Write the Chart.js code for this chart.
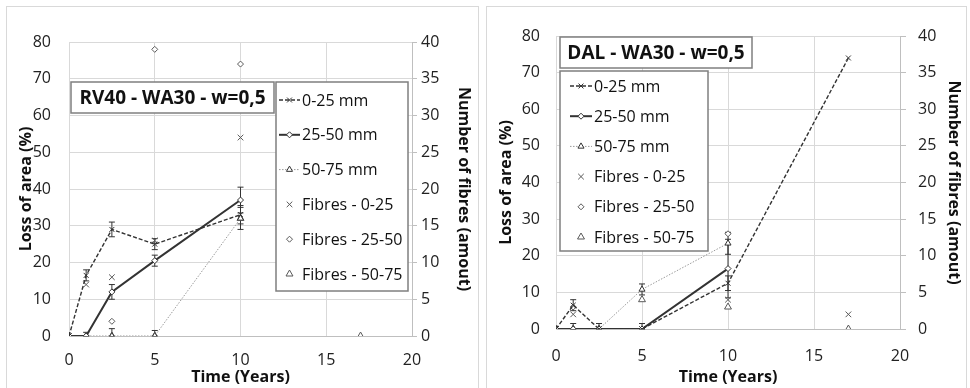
<!DOCTYPE html>
<html>
<head>
<meta charset="utf-8">
<script src="https://cdn.jsdelivr.net/npm/chart.js@4.4.1/dist/chart.umd.min.js"></script>
<style>
  body { margin: 0; background: #fff; width: 970px; height: 388px; overflow: hidden; position: relative; }
  .frame { position: absolute; border: 1px solid #d9d9d9; box-sizing: border-box; }
  canvas { position: absolute; display: block; }
</style>
</head>
<body>
<div class="frame" style="left:6px;top:6px;width:473px;height:384px"></div>
<div class="frame" style="left:486px;top:6px;width:481px;height:384px"></div>
<canvas id="rv40" width="471" height="380" style="left:7px;top:7px"></canvas>
<canvas id="dal" width="478" height="380" style="left:487px;top:7px"></canvas>
<script>
// RV40 - WA30 - w=0,5 (left panel)
const rv40Years = [0, 1, 2.5, 5, 10];
const rv40Loss025 = [0, 16.5, 29, 25, 33];
const rv40Loss2550 = [0, 0, 12, 20.5, 37];
const rv40Loss5075 = [0, 0, 0, 0, 32];
const rv40Err025 = [0, 1.5, 2, 1.5, 2.5];
const rv40Err2550 = [0, 1, 2, 1.5, 3.5];
const rv40Err5075 = [0, 0, 2, 1.5, 3];
const rv40FibYears = [0, 1, 2.5, 5, 10, 17];
const rv40Fib025 = [0, 7, 8, 13, 27, null];
const rv40Fib2550 = [0, 0, 2, 39, 37, null];
const rv40Fib5075 = [0, 0, 0, 0, 16, 0];

// DAL - WA30 - w=0,5 (right panel)
const dalYears025 = [0, 1, 2.5, 5, 10, 17];
const dalLoss025 = [0, 6.5, 0, 0, 12.5, 74];
const dalYears = [0, 1, 2.5, 5, 10];
const dalLoss2550 = [0, 0, 0, 0, 16.5];
const dalLoss5075 = [0, 0, 0, 10.8, 23.4];
const dalErr025 = [0, 1.5, 1.5, 1.5, 2, 0];
const dalErr2550 = [0, 1.5, 0, 0, 8];
const dalErr5075 = [0, 0, 0, 1.5, 3];
const dalFibYears = [0, 1, 2.5, 5, 10, 17];
const dalFib025 = [0, 2, 0, 0, 4, 2];
const dalFib2550 = [0, 3, 0, 0, 13, null];
const dalFib5075 = [0, 0, 0, 4, 3, 0];

const legendLabels = ['0-25 mm', '25-50 mm', '50-75 mm', 'Fibres - 0-25', 'Fibres - 25-50', 'Fibres - 50-75'];
const xTicks = [0, 5, 10, 15, 20];

const FONT = '"Open Sans", "DejaVu Sans", sans-serif';
const DARK = '#333333';
const LIGHT = '#9a9a9a';
const GRID = '#d9d9d9';

const pts = (xs, ys) => xs.map((x, i) => ({ x: x, y: ys[i] })).filter(p => p.y !== null);

function marker(ctx, style, x, y, r) {
  ctx.beginPath();
  if (style === 'crossRot') {
    ctx.moveTo(x - r * 0.7, y - r * 0.7); ctx.lineTo(x + r * 0.7, y + r * 0.7);
    ctx.moveTo(x + r * 0.7, y - r * 0.7); ctx.lineTo(x - r * 0.7, y + r * 0.7);
    ctx.stroke();
    return;
  }
  if (style === 'rectRot') {
    ctx.moveTo(x, y - r); ctx.lineTo(x + r, y); ctx.lineTo(x, y + r); ctx.lineTo(x - r, y);
  } else {
    ctx.moveTo(x, y - r); ctx.lineTo(x + r * 0.87, y + r * 0.5); ctx.lineTo(x - r * 0.87, y + r * 0.5);
  }
  ctx.closePath();
  ctx.fill();
  ctx.stroke();
}

const errorBars = {
  id: 'errorBars',
  beforeDatasetsDraw(chart) {
    const ctx = chart.ctx;
    ctx.save();
    ctx.strokeStyle = DARK;
    ctx.lineWidth = 1;
    chart.data.datasets.forEach(ds => {
      if (!ds.errors) return;
      const xs = chart.scales.x, ys = chart.scales[ds.yAxisID || 'y'];
      ds.data.forEach((p, j) => {
        const e = ds.errors[j];
        if (!e) return;
        const px = xs.getPixelForValue(p.x);
        const t = ys.getPixelForValue(p.y + e);
        const b = ys.getPixelForValue(Math.max(0, p.y - e));
        ctx.beginPath();
        ctx.moveTo(px, t); ctx.lineTo(px, b);
        ctx.moveTo(px - 3, t); ctx.lineTo(px + 3, t);
        ctx.moveTo(px - 3, b); ctx.lineTo(px + 3, b);
        ctx.stroke();
      });
    });
    ctx.restore();
  }
};

const boxLegend = {
  id: 'boxLegend',
  afterDraw(chart, args, o) {
    const ctx = chart.ctx;
    ctx.save();
    // title box
    ctx.fillStyle = '#fff';
    ctx.strokeStyle = '#7f7f7f';
    ctx.lineWidth = 1.5;
    ctx.fillRect(o.title[0], o.title[1], o.title[2], o.title[3]);
    ctx.strokeRect(o.title[0], o.title[1], o.title[2], o.title[3]);
    ctx.fillStyle = '#111';
    ctx.font = 'bold 19px ' + FONT;
    ctx.textBaseline = 'middle';
    ctx.textAlign = 'center';
    ctx.fillText(o.text, o.title[0] + o.title[2] / 2, o.title[1] + o.title[3] / 2 + 1);
    // legend box
    ctx.fillStyle = '#fff';
    ctx.fillRect(o.box[0], o.box[1], o.box[2], o.box[3]);
    ctx.strokeRect(o.box[0], o.box[1], o.box[2], o.box[3]);
    ctx.font = '16px ' + FONT;
    ctx.textAlign = 'left';
    chart.data.datasets.forEach((ds, i) => {
      const y = o.rowTop + i * o.rowH;
      const mid = (o.sampleX[0] + o.sampleX[1]) / 2;
      if (ds.showLine) {
        ctx.strokeStyle = ds.borderColor;
        ctx.lineWidth = ds.borderWidth;
        ctx.setLineDash(ds.borderDash || []);
        ctx.beginPath();
        ctx.moveTo(o.sampleX[0], y); ctx.lineTo(o.sampleX[1], y);
        ctx.stroke();
        ctx.setLineDash([]);
      }
      ctx.strokeStyle = ds.pointBorderColor;
      ctx.fillStyle = ds.pointBackgroundColor;
      ctx.lineWidth = 1;
      marker(ctx, ds.pointStyle, mid, y, ds.pointRadius);
      ctx.fillStyle = '#111';
      ctx.fillText(legendLabels[i], o.textX, y + 1);
    });
    ctx.restore();
  }
};

function lineSet(xs, ys, errs, kind) {
  const styles = {
    a: { color: DARK, width: 1.4, dash: [4, 2], point: 'crossRot', r: 3.5 },
    b: { color: DARK, width: 2, dash: [], point: 'rectRot', r: 3 },
    c: { color: LIGHT, width: 1, dash: [1.5, 1.5], point: 'triangle', r: 3.5 }
  }[kind];
  return {
    data: pts(xs, ys),
    errors: errs,
    showLine: true,
    yAxisID: 'y',
    borderColor: styles.color,
    borderWidth: styles.width,
    borderDash: styles.dash,
    pointStyle: styles.point,
    pointRadius: styles.r,
    pointBorderColor: DARK,
    pointBackgroundColor: '#fff',
    pointBorderWidth: 1
  };
}

function fibreSet(xs, ys, style, r) {
  return {
    data: pts(xs, ys),
    showLine: false,
    yAxisID: 'y2',
    pointStyle: style,
    pointRadius: r,
    pointBorderColor: '#595959',
    pointBackgroundColor: '#fff',
    pointBorderWidth: 1
  };
}

function makeChart(id, datasets, g) {
  const tickFont = { family: FONT, size: 16 };
  const titleFont = { family: FONT, size: 16, weight: 'bold' };
  return new Chart(document.getElementById(id), {
    type: 'scatter',
    data: { datasets: datasets },
    options: {
      responsive: false,
      animation: false,
      layout: { padding: { top: g.top, left: 0, right: 0, bottom: 0 } },
      plugins: { legend: { display: false }, tooltip: { enabled: false }, boxLegend: g.legend },
      scales: {
        x: {
          type: 'linear', min: 0, max: 20,
          afterBuildTicks: s => { s.ticks = xTicks.map(v => ({ value: v })); },
          afterFit: s => { s.height = g.xh; },
          grid: { color: GRID, drawTicks: false },
          border: { color: '#bfbfbf' },
          ticks: { font: tickFont, color: '#222', padding: g.xpad },
          title: { display: true, text: 'Time (Years)', font: titleFont, color: '#111', padding: { top: 0, bottom: 0 } }
        },
        y: {
          position: 'left', min: 0, max: 80,
          afterFit: s => { s.width = g.yw; },
          grid: { color: GRID, drawTicks: false },
          border: { color: GRID },
          ticks: { stepSize: 10, font: tickFont, color: '#222', padding: g.ypad },
          title: { display: true, text: 'Loss of area (%)', font: titleFont, color: '#111', padding: { top: g.ytp, bottom: 0 } }
        },
        y2: {
          position: 'right', min: 0, max: 40,
          afterFit: s => { s.width = g.y2w; },
          grid: { drawOnChartArea: false, color: '#bfbfbf', tickLength: g.tl },
          border: { color: '#bfbfbf' },
          ticks: { stepSize: 5, font: tickFont, color: '#222', padding: g.y2pad },
          title: { display: true, text: 'Number of fibres (amout)', font: titleFont, color: '#111', padding: { top: g.y2tp, bottom: 0 } }
        }
      }
    },
    plugins: [errorBars, boxLegend]
  });
}

makeChart('rv40', [
  lineSet(rv40Years, rv40Loss025, rv40Err025, 'a'),
  lineSet(rv40Years, rv40Loss2550, rv40Err2550, 'b'),
  lineSet(rv40Years, rv40Loss5075, rv40Err5075, 'c'),
  fibreSet(rv40FibYears, rv40Fib025, 'crossRot', 4),
  fibreSet(rv40FibYears, rv40Fib2550, 'rectRot', 3),
  fibreSet(rv40FibYears, rv40Fib5075, 'triangle', 4)
], {
  top: 35, xh: 51, yw: 62, y2w: 66, xpad: 15, ypad: 18, ytp: 10, tl: 5, y2pad: 4, y2tp: 5,
  legend: {
    text: 'RV40 - WA30 - w=0,5',
    title: [64, 75, 203, 31],
    box: [269, 75, 132, 209],
    rowTop: 93, rowH: 34.8, sampleX: [272, 293], textX: 295
  }
});

makeChart('dal', [
  lineSet(dalYears025, dalLoss025, dalErr025, 'a'),
  lineSet(dalYears, dalLoss2550, dalErr2550, 'b'),
  lineSet(dalYears, dalLoss5075, dalErr5075, 'c'),
  fibreSet(dalFibYears, dalFib025, 'crossRot', 4),
  fibreSet(dalFibYears, dalFib2550, 'rectRot', 3),
  fibreSet(dalFibYears, dalFib5075, 'triangle', 4)
], {
  top: 29, xh: 58, yw: 69, y2w: 65, xpad: 18, ypad: 16, ytp: 10, tl: 6, y2pad: 12, y2tp: 2,
  legend: {
    text: 'DAL - WA30 - w=0,5',
    title: [73, 30, 192, 31],
    box: [73, 64, 148, 180],
    rowTop: 79, rowH: 30.2, sampleX: [83, 105], textX: 107
  }
});
</script>
</body>
</html>
